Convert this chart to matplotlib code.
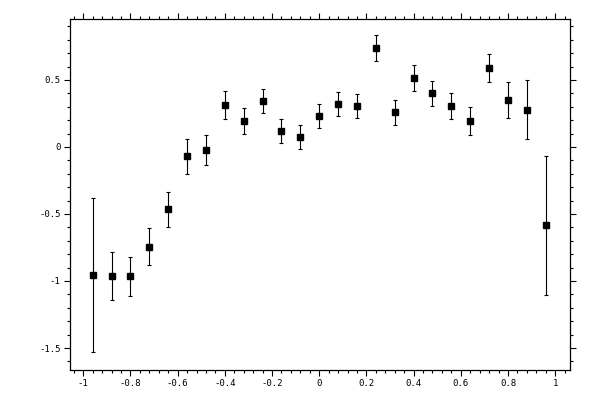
import matplotlib
matplotlib.use("Agg")
import matplotlib.pyplot as plt
from matplotlib.ticker import MultipleLocator, FuncFormatter

# data
x = [-0.96, -0.88, -0.80, -0.72, -0.64, -0.56, -0.48, -0.40, -0.32, -0.24,
     -0.16, -0.08, 0.00, 0.08, 0.16, 0.24, 0.32, 0.40, 0.48, 0.56,
     0.64, 0.72, 0.80, 0.88, 0.96]
y = [-0.955, -0.965, -0.965, -0.745, -0.465, -0.07, -0.025, 0.311, 0.192, 0.341,
     0.117, 0.072, 0.229, 0.319, 0.304, 0.737, 0.259, 0.515, 0.40, 0.304,
     0.192, 0.589, 0.348, 0.276, -0.585]
yerr = [0.575, 0.18, 0.145, 0.137, 0.13, 0.13, 0.112, 0.105, 0.097, 0.09,
        0.09, 0.09, 0.09, 0.09, 0.09, 0.098, 0.094, 0.094, 0.093, 0.097,
        0.105, 0.108, 0.135, 0.22, 0.52]

plt.rcParams['axes.unicode_minus'] = False
plt.rcParams['font.family'] = ['DejaVu Sans Mono']


def fmt(v, pos):
    return '%g' % (round(v, 6) + 0.0)


fig = plt.figure(figsize=(6, 4), dpi=100)
ax = fig.add_axes([0.116, 0.075, 0.834, 0.877])

ax.errorbar(x, y, yerr=yerr, fmt='s', color='black', ms=4.6,
            elinewidth=0.8, capsize=1.6, capthick=0.8)

ax.set_xlim(-1.058, 1.063)
ax.set_ylim(-1.664, 0.953)

ax.xaxis.set_major_locator(MultipleLocator(0.2))
ax.xaxis.set_minor_locator(MultipleLocator(0.04))
ax.yaxis.set_major_locator(MultipleLocator(0.5))
ax.yaxis.set_minor_locator(MultipleLocator(0.1))
ax.xaxis.set_major_formatter(FuncFormatter(fmt))
ax.yaxis.set_major_formatter(FuncFormatter(fmt))

ax.tick_params(which='both', direction='out', top=True, right=True,
               labelsize=6.5, width=0.8, pad=2.5)
ax.tick_params(which='major', length=4)
ax.tick_params(which='minor', length=2.5)
for s in ax.spines.values():
    s.set_linewidth(0.9)

plt.savefig('out.png', dpi=100)
